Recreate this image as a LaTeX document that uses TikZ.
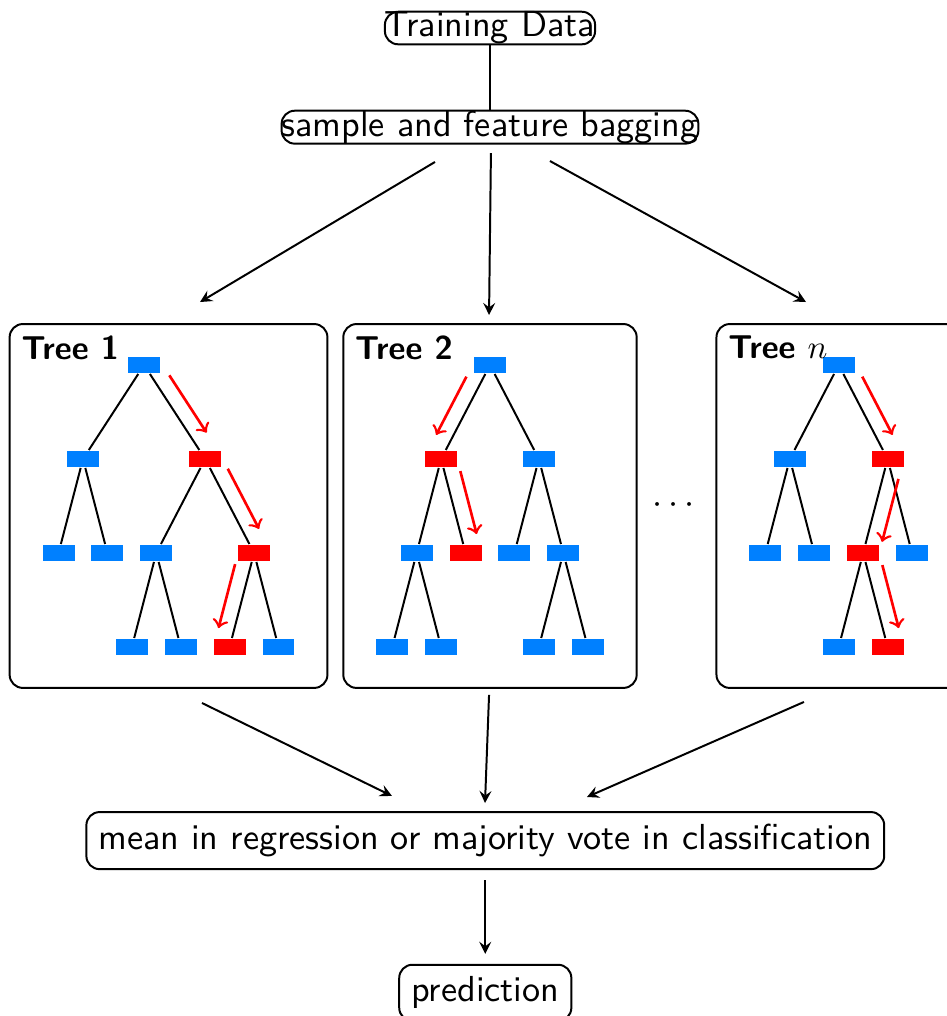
\documentclass[tikz,border=0pt,11pt]{standalone}
\usepackage{tikz}
\usetikzlibrary{positioning,calc,fit,arrows}
\renewcommand{\familydefault}{\sfdefault}
\definecolor{nodeblue}{RGB}{0,128,255}

\begin{document}
\begin{tikzpicture}[semithick,
    leaf/.style={rectangle, fill=nodeblue, minimum width=0.34cm, minimum height=0.17cm, inner sep=0pt},
    hit/.style={leaf, fill=red},
    stagebox/.style={draw, rounded corners, inner sep=0pt},
    votebox/.style={draw, rounded corners},
    treebox/.style={draw, rounded corners, inner sep=0.34cm},
    treelabel/.style={anchor=north west, inner sep=3.6pt, font=\small\bfseries},
    flow/.style={-stealth},
    hint/.style={->, red, thick},
    node distance=1cm and 0.26cm, on grid]
    \useasboundingbox (-5.213,3.883) rectangle (4.862,-6.926);

    % Data and bagging
    \node [stagebox] (data) at (0,3.585) {Training Data};
    \node [stagebox] (bag) at (0,2.53) {sample and feature bagging};
    \draw (data) -- (bag);

    \coordinate (bag1) at (-0.585,2.16);
    \coordinate (bag2) at (0.01,2.255);
    \coordinate (bag3) at (0.638,2.17);
    \coordinate (in1) at (-3.085,0.67);
    \coordinate (in2) at (-0.01,0.532);
    \coordinate (in3) at (3.362,0.67);
    \draw [flow] (bag1) -- (in1);
    \draw [flow] (bag2) -- (in2);
    \draw [flow] (bag3) -- (in3);

    % Tree 1
    \node [leaf] (t1r) at (-3.68,0) {};
    \node [leaf, below left=1cm and 0.65cm of t1r] (t1a) {};
    \node [hit, below right=1cm and 0.65cm of t1r] (t1b) {};
    \node [leaf, below left=of t1a] (t1c) {};
    \node [leaf, below right=of t1a] (t1d) {};
    \node [leaf, below left=1cm and 0.52cm of t1b] (t1e) {};
    \node [hit, below right=1cm and 0.52cm of t1b] (t1f) {};
    \node [leaf, below left=of t1e] (t1g) {};
    \node [leaf, below right=of t1e] (t1h) {};
    \node [hit, below left=of t1f] (t1i) {};
    \node [leaf, below right=of t1f] (t1j) {};
    \draw (t1r) -- (t1a) (t1r) -- (t1b);
    \draw (t1a) -- (t1c) (t1a) -- (t1d);
    \draw (t1b) -- (t1e) (t1b) -- (t1f);
    \draw (t1e) -- (t1g) (t1e) -- (t1h);
    \draw (t1f) -- (t1i) (t1f) -- (t1j);
    \draw [hint] ($(t1r)!0.2!(t1b)!4.7pt!90:(t1b)$) -- ($(t1r)!0.81!(t1b)!4.7pt!90:(t1b)$);
    \draw [hint] ($(t1b)!0.18!(t1f)!4.7pt!90:(t1f)$) -- ($(t1b)!0.82!(t1f)!4.7pt!90:(t1f)$);
    \draw [hint] ($(t1f)!0.16!(t1i)!4.7pt!-90:(t1i)$) -- ($(t1f)!0.84!(t1i)!4.7pt!-90:(t1i)$);
    \node [treebox, fit=(t1r)(t1c)(t1g)(t1j)] (box1) {};
    \node [treelabel] (lab1) at (box1.north west) {Tree 1};

    % Tree 2
    \node [leaf] (t2r) at (0,0) {};
    \node [hit, below left=1cm and 0.52cm of t2r] (t2a) {};
    \node [leaf, below right=1cm and 0.52cm of t2r] (t2b) {};
    \node [leaf, below left=of t2a] (t2c) {};
    \node [hit, below right=of t2a] (t2d) {};
    \node [leaf, below left=of t2b] (t2e) {};
    \node [leaf, below right=of t2b] (t2f) {};
    \node [leaf, below left=of t2c] (t2g) {};
    \node [leaf, below right=of t2c] (t2h) {};
    \node [leaf, below left=of t2f] (t2i) {};
    \node [leaf, below right=of t2f] (t2j) {};
    \draw (t2r) -- (t2a) (t2r) -- (t2b);
    \draw (t2a) -- (t2c) (t2a) -- (t2d);
    \draw (t2b) -- (t2e) (t2b) -- (t2f);
    \draw (t2c) -- (t2g) (t2c) -- (t2h);
    \draw (t2f) -- (t2i) (t2f) -- (t2j);
    \draw [hint] ($(t2r)!0.2!(t2a)!4.7pt!-90:(t2a)$) -- ($(t2r)!0.82!(t2a)!4.7pt!-90:(t2a)$);
    \draw [hint] ($(t2a)!0.17!(t2d)!4.7pt!90:(t2d)$) -- ($(t2a)!0.84!(t2d)!4.7pt!90:(t2d)$);
    \node [treebox, fit=(t2r)(t2g)(t2j)] (box2) {};
    \node [treelabel] (lab2) at (box2.north west) {Tree 2};

    \node (more) at (1.95,-1.49) {$\cdots$};

    % Tree n
    \node [leaf] (tnr) at (3.71,0) {};
    \node [leaf, below left=1cm and 0.52cm of tnr] (tna) {};
    \node [hit, below right=1cm and 0.52cm of tnr] (tnb) {};
    \node [leaf, below left=of tna] (tnc) {};
    \node [leaf, below right=of tna] (tnd) {};
    \node [hit, below left=of tnb] (tne) {};
    \node [leaf, below right=of tnb] (tnf) {};
    \node [leaf, below left=of tne] (tng) {};
    \node [hit, below right=of tne] (tnh) {};
    \draw (tnr) -- (tna) (tnr) -- (tnb);
    \draw (tna) -- (tnc) (tna) -- (tnd);
    \draw (tnb) -- (tne) (tnb) -- (tnf);
    \draw (tne) -- (tng) (tne) -- (tnh);
    \draw [hint] ($(tnr)!0.2!(tnb)!4.7pt!90:(tnb)$) -- ($(tnr)!0.82!(tnb)!4.7pt!90:(tnb)$);
    \draw [hint] ($(tnb)!0.17!(tne)!4.7pt!90:(tne)$) -- ($(tnb)!0.84!(tne)!4.7pt!90:(tne)$);
    \draw [hint] ($(tne)!0.17!(tnh)!4.7pt!90:(tnh)$) -- ($(tne)!0.84!(tnh)!4.7pt!90:(tnh)$);
    \node [treebox, fit=(tnr)(tnc)(tng)(tnf)] (box3) {};
    \node [treelabel] (lab3) at (box3.north west) {Tree $n$};

    % Aggregation
    \node [votebox] (vote) at (-0.05,-5.06) {mean in regression or majority vote in classification};
    \node [votebox] (pred) at (-0.05,-6.68) {prediction};

    \coordinate (out1) at (-3.064,-3.596);
    \coordinate (out2) at (-0.01,-3.51);
    \coordinate (out3) at (3.34,-3.585);
    \coordinate (vin1) at (-1.043,-4.585);
    \coordinate (vin2) at (-0.053,-4.66);
    \coordinate (vin3) at (1.032,-4.596);
    \draw [flow] (out1) -- (vin1);
    \draw [flow] (out2) -- (vin2);
    \draw [flow] (out3) -- (vin3);
    \draw [flow, shorten <=3pt, shorten >=3pt] (vote) -- (pred);
\end{tikzpicture}
\end{document}
